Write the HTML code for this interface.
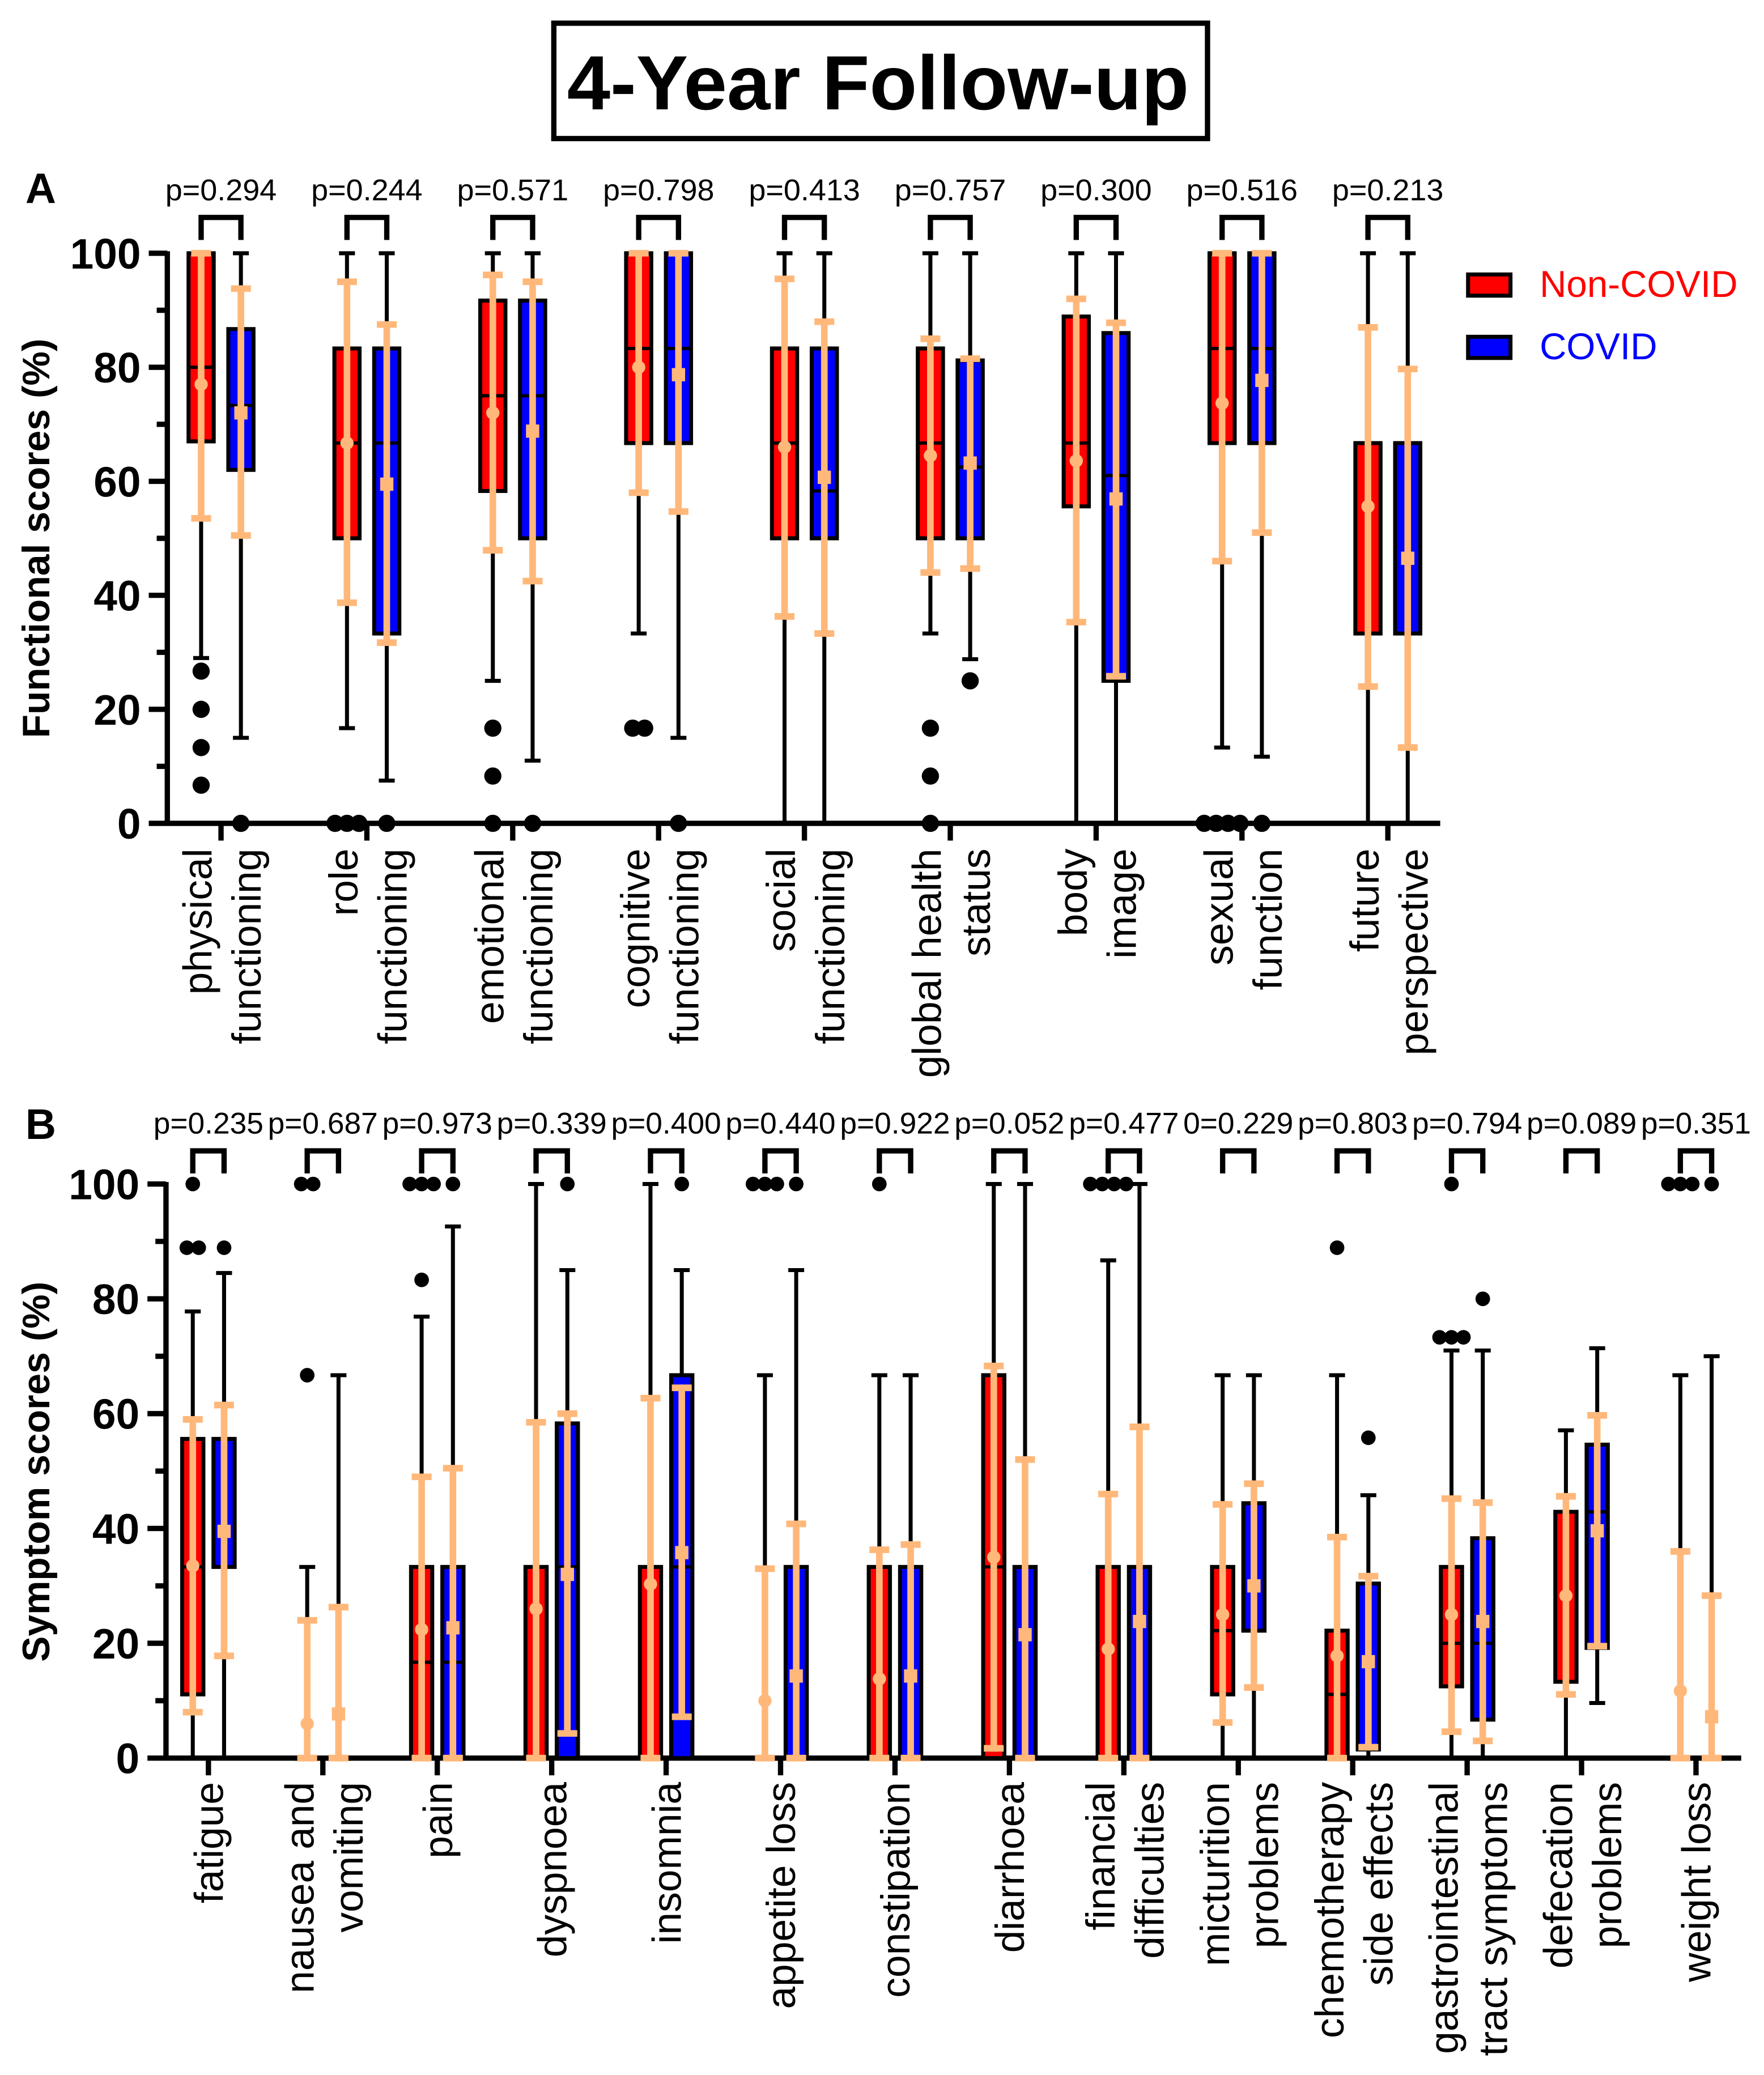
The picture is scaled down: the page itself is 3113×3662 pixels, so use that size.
<!DOCTYPE html>
<html><head><meta charset="utf-8"><style>
html,body{margin:0;padding:0;background:#fff;}
svg{display:block;font-family:"Liberation Sans",Arial,sans-serif;}
</style></head><body>
<svg id="fig" width="3113" height="3662" viewBox="0 0 1330 1565" xmlns="http://www.w3.org/2000/svg">
<rect x="417.5" y="17.5" width="493" height="87" fill="#fff" stroke="#000" stroke-width="4"/>
<text x="662" y="82.5" text-anchor="middle" font-size="58" font-weight="bold" textLength="469" lengthAdjust="spacingAndGlyphs">4-Year Follow-up</text>
<text x="19" y="153" font-size="32" font-weight="bold">A</text>
<text x="19" y="859" font-size="32" font-weight="bold">B</text>
<text transform="translate(37,406) rotate(-90)" text-anchor="middle" font-size="29" font-weight="bold">Functional scores (%)</text>
<text transform="translate(37,1110) rotate(-90)" text-anchor="middle" font-size="29" font-weight="bold">Symptom scores (%)</text>
<rect x="1107" y="207" width="32" height="16" fill="#f00" stroke="#000" stroke-width="3"/>
<text x="1161" y="224" font-size="28" fill="#f00">Non-COVID</text>
<rect x="1107" y="254" width="32" height="16" fill="#00f" stroke="#000" stroke-width="3"/>
<text x="1161" y="271" font-size="28" fill="#00f">COVID</text>
<g id="gA"></g><g id="gB"></g>
</svg>
<script>
// Panel A data: [q1, median, q3, whiskerLo, whiskerHi, mean, errLo, errHi]
const catsA=[["physical","functioning"],["role","functioning"],["emotional","functioning"],["cognitive","functioning"],["social","functioning"],["global health","status"],["body","image"],["sexual","function"],["future","perspective"]];
const pA=["p=0.294","p=0.244","p=0.571","p=0.798","p=0.413","p=0.757","p=0.300","p=0.516","p=0.213"];
const redA=[[67,80,100,29,100,77,53.5,100],[50,66.7,83.3,16.7,100,66.7,38.7,95],[58.3,75,91.7,25,100,72,47.9,96.2],[66.7,83.3,100,33.3,100,80,58,100],[50,66.7,83.3,0,100,66,36.3,95.5],[50,66.7,83.3,33.3,100,64.5,44,85],[55.6,66.7,88.9,0,100,63.6,35.3,92],[66.7,83.3,100,13.3,100,73.7,46,100],[33.3,33.3,66.7,0,100,55.6,24,87]];
const blueA=[[62,73.3,86.7,15,100,72,50.5,93.8],[33.3,66.7,83.3,7.5,100,59.5,31.7,87.5],[50,75,91.7,11,100,68.8,42.5,95],[66.7,83.3,100,15,100,78.7,54.7,100],[50,58.3,83.3,0,100,60.7,33.3,88],[50,62.5,81.2,28.8,100,63.2,44.7,81.5],[25,61,86,0,100,56.9,25.8,87.8],[66.7,83.3,100,11.7,100,77.7,51,100],[33.3,33.3,66.7,0,100,46.5,13.3,79.7]];
const outRedA=[[26.7,20,13.3,6.7],[0,0,0],[16.7,8.3,0],[16.7,16.7],[],[16.7,8.3,0],[],[0,0,0,0],[]];
const outBlueA=[[0],[0],[0],[0],[],[25],[],[0],[]];
// Panel B data
const catsB=[["fatigue"],["nausea and","vomiting"],["pain"],["dyspnoea"],["insomnia"],["appetite loss"],["constipation"],["diarrhoea"],["financial","difficulties"],["micturition","problems"],["chemotherapy","side effects"],["gastrointestinal","tract symptoms"],["defecation","problems"],["weight loss"]];
const pB=["p=0.235","p=0.687","p=0.973","p=0.339","p=0.400","p=0.440","p=0.922","p=0.052","p=0.477","0=0.229","p=0.803","p=0.794","p=0.089","p=0.351"];
const redB=[[11.1,33.3,55.6,0,77.8,33.5,8,59],[0,0,0,0,33.3,6,0,24],[0,16.7,33.3,0,76.9,22.4,0,49],[0,0,33.3,0,100,26,0,58.5],[0,0,33.3,0,100,30.3,0,62.7],[0,0,0,0,66.7,10,0,33],[0,0,33.3,0,66.7,13.8,0,36.3],[0,33.3,66.7,0,100,35,1.7,68.3],[0,0,33.3,0,86.7,19,0,46],[11.1,22.2,33.3,0,66.7,25,6.2,44.2],[0,11.1,22.2,0,66.7,17.8,0,38.5],[12.5,20,33.3,0,71,25,4.6,45.2],[13.3,13.3,42.9,0,57.1,28.3,11.1,45.6],[0,0,0,0,66.7,11.7,0,36]];
const blueB=[[33.3,33.3,55.6,0,84.5,39.5,17.8,61.5],[0,0,0,0,66.7,7.7,0,26.3],[0,16.7,33.3,0,92.6,22.7,0,50.5],[0,33.3,58.3,0,85,32,4.3,60],[0,33.3,66.7,0,85,35.8,7.2,64.5],[0,0,33.3,0,85,14.3,0,40.8],[0,0,33.3,0,66.7,14.3,0,37.2],[0,0,33.3,0,100,21.5,0,52],[0,0,33.3,0,100,23.8,0,57.7],[22.2,22.2,44.4,0,66.7,30,12.3,47.8],[1.5,1.5,30.4,0,45.8,16.8,1.9,31.7],[6.7,20,38.3,0,71,23.8,3,44.5],[19.2,42.9,54.6,9.6,71.4,39.6,19.5,59.7],[0,0,0,0,70,7.2,0,28.3]];
const outRedB=[[100,88.9,88.9],[100,100,66.7],[100,100,100,83.3],[],[],[100,100,100],[100],[],[100,100,100,100],[],[88.9],[100,73.3,73.3,73.3],[],[100,100,100]];
const outBlueB=[[88.9],[],[100],[100],[100],[100],[],[],[],[],[55.8],[80],[],[100]];
const yTicks=[0,20,40,60,80,100];

const NS="http://www.w3.org/2000/svg";
function mk(parent,tag,attrs,name,txt){
  const e=document.createElementNS(NS,tag);
  for(const k in attrs)e.setAttribute(k,attrs[k]);
  
  
  if(txt!==undefined)e.textContent=txt;
  parent.appendChild(e);return e;
}
function panel(g,cfg){
  const y=v=>cfg.y0-(cfg.y0-cfg.y100)*v/100;
  const xc=i=>cfg.first+i*cfg.step;
  const OR="#ffb87a";
  mk(g,'line',{x1:cfg.ax,y1:y(100)-1.5,x2:cfg.ax,y2:y(0),stroke:'#000','stroke-width':4},'y-axis');
  mk(g,'line',{x1:cfg.ax-14,y1:y(0),x2:cfg.xend,y2:y(0),stroke:'#000','stroke-width':4},'x-axis');
  for(let v=10;v<=100;v+=10){
    mk(g,'line',{x1:cfg.ax-(v%20?8:14),y1:y(v),x2:cfg.ax,y2:y(v),stroke:'#000','stroke-width':4},'y-tick');
  }
  yTicks.forEach(v=>mk(g,'text',{x:cfg.ax-20,y:y(v)+11.5,'text-anchor':'end','font-size':32,'font-weight':'bold'},'y-tick-label',String(v)));
  cfg.cats.forEach((c,i)=>{
    const cx=xc(i),rx=cx-cfg.off,bx=cx+cfg.off;
    mk(g,'line',{x1:cx,y1:y(0),x2:cx,y2:y(0)+13,stroke:'#000','stroke-width':4},'x-tick');
    if(c.length===1){
      mk(g,'text',{transform:`translate(${cx+11},${cfg.lblY}) rotate(-90)`,'text-anchor':'end','font-size':30.5},'x-tick-label',c[0]);
    }else{
      mk(g,'text',{transform:`translate(${cx-7},${cfg.lblY}) rotate(-90)`,'text-anchor':'end','font-size':30.5},'x-tick-label',c[0]);
      mk(g,'text',{transform:`translate(${cx+30},${cfg.lblY}) rotate(-90)`,'text-anchor':'end','font-size':30.5},'x-tick-label',c[1]);
    }
    mk(g,'text',{x:cx,y:cfg.pY,'text-anchor':'middle','font-size':cfg.pFs,textLength:cfg.pW,lengthAdjust:'spacingAndGlyphs'},'p-value',cfg.p[i]);
    mk(g,'path',{d:`M${rx},${cfg.brY+17}V${cfg.brY}H${bx}V${cfg.brY+17}`,fill:'none',stroke:'#000','stroke-width':4},'significance-bracket');
    [[rx,cfg.red[i],'#f00',cfg.oR[i],'circle','noncovid'],[bx,cfg.blue[i],'#00f',cfg.oB[i],'square','covid']].forEach(([x,d,col,outs,mkr,nm])=>{
      const [q1,med,q3,wl,wh,mean,el,eh]=d,hw=cfg.bw/2;
      mk(g,'line',{x1:x,y1:y(wh),x2:x,y2:y(wl),stroke:'#000','stroke-width':3},'whisker-'+nm);
      mk(g,'line',{x1:x-6,y1:y(wh),x2:x+6,y2:y(wh),stroke:'#000','stroke-width':3},'whisker-cap-'+nm);
      mk(g,'line',{x1:x-6,y1:y(wl),x2:x+6,y2:y(wl),stroke:'#000','stroke-width':3},'whisker-cap-'+nm);
      mk(g,'rect',{x:x-hw,y:y(q3),width:cfg.bw,height:Math.max(y(q1)-y(q3),0.5),fill:col,stroke:'#000','stroke-width':3},'box-'+nm);
      mk(g,'line',{x1:x-hw,y1:y(med),x2:x+hw,y2:y(med),stroke:'#000','stroke-width':2.5},'median-'+nm);
      outs.forEach((v,k)=>{
        const same=outs.filter(u=>u===v).length,idx=outs.slice(0,k).filter(u=>u===v).length;
        mk(g,'circle',{cx:x+(idx-(same-1)/2)*cfg.dotSp,cy:y(v),r:cfg.dotR,fill:'#000'},'outlier-'+nm);
      });
      mk(g,'line',{x1:x,y1:y(eh),x2:x,y2:y(el),stroke:OR,'stroke-width':5},'sd-bar-'+nm);
      mk(g,'line',{x1:x-7.5,y1:y(eh),x2:x+7.5,y2:y(eh),stroke:OR,'stroke-width':5},'sd-cap-'+nm);
      mk(g,'line',{x1:x-7.5,y1:y(el),x2:x+7.5,y2:y(el),stroke:OR,'stroke-width':5},'sd-cap-'+nm);
      if(mkr==='circle')mk(g,'circle',{cx:x,cy:y(mean),r:5,fill:OR},'mean-marker-'+nm);
      else mk(g,'rect',{x:x-5,y:y(mean)-5,width:10,height:10,fill:OR},'mean-marker-'+nm);
    });
  });
}
panel(document.getElementById('gA'),{y0:621,y100:191,ax:126,xend:1086,first:166.5,step:110,off:15,bw:19,cats:catsA,p:pA,red:redA,blue:blueA,oR:outRedA,oB:outBlueA,pY:151,pFs:22.5,pW:84,brY:164,lblY:640,dotR:6.5,dotSp:9});
panel(document.getElementById('gB'),{y0:1326,y100:893,ax:125,xend:1313,first:157,step:86.3,off:11.8,bw:16,cats:catsB,p:pB,red:redB,blue:blueB,oR:outRedB,oB:outBlueB,pY:855,pFs:22.5,pW:83,brY:868,lblY:1344,dotR:5.5,dotSp:9});
</script>
</body></html>
